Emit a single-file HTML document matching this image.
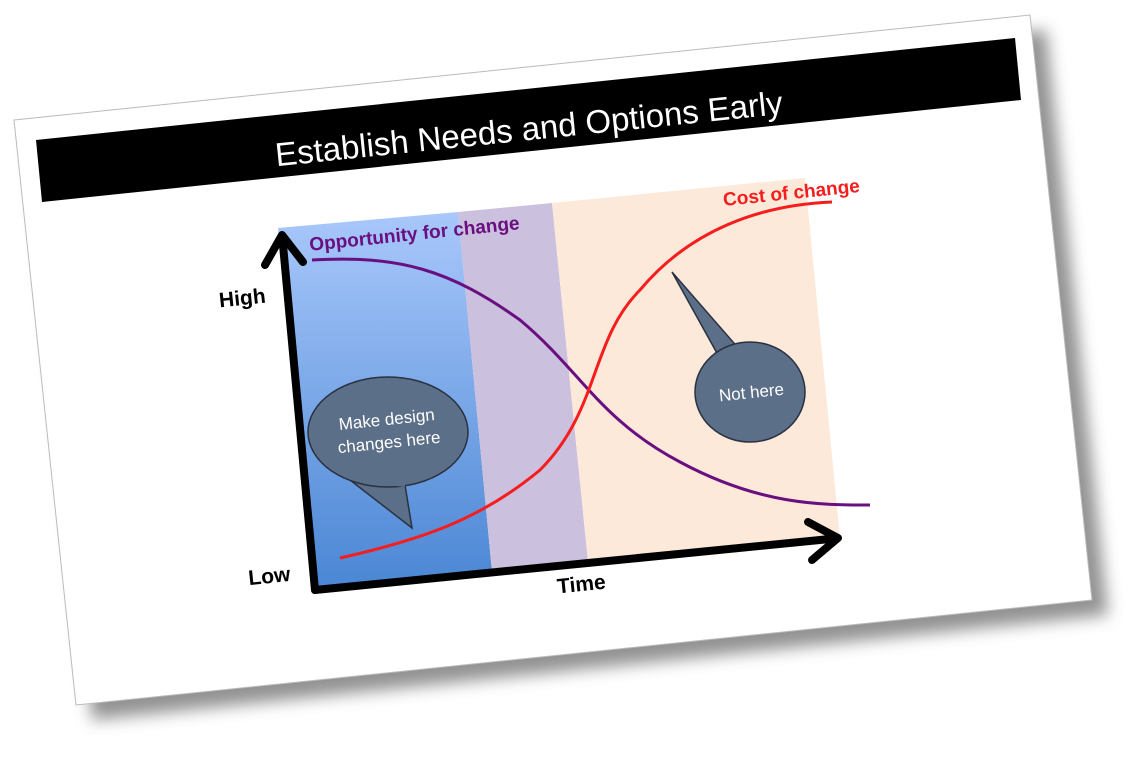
<!DOCTYPE html>
<html><head><meta charset="utf-8"><style>
html,body{margin:0;padding:0;background:#fff;}
svg{display:block;font-family:"Liberation Sans",sans-serif;}
</style></head><body>
<svg width="1135" height="757" viewBox="0 0 1135 757" xmlns="http://www.w3.org/2000/svg">
<defs>
<filter id="sh" x="-10%" y="-10%" width="130%" height="130%"><feGaussianBlur stdDeviation="8"/></filter>
<linearGradient id="bl" x1="0" y1="0" x2="0" y2="1"><stop offset="0" stop-color="#a9c8fb"/><stop offset="1" stop-color="#4a86d4"/></linearGradient>
</defs>
<polygon points="30,135 1046,30 1108,615 92,720" fill="#777" filter="url(#sh)" opacity="0.8"/>
<polygon points="14,120 1030,15 1092,600 76,705" fill="#fff" stroke="#bbb" stroke-width="1"/>
<polygon points="36,140 1015,38 1021,100 42,202" fill="#000"/>
<text x="0" y="0" transform="translate(530,140) rotate(-5.9)" text-anchor="middle" fill="#fff" font-size="33">Establish Needs and Options Early</text>
<polygon points="278,228 458,212 492,572 315,590" fill="url(#bl)"/>
<polygon points="458,212 552,203 588,562 492,572" fill="#cbc0dd"/>
<polygon points="552,203 805,178 840,538 588,562" fill="#fde9d9"/>
<path d="M312,260 C400,255 450,270 520,320 C580,370 600,420 680,462 C760,505 820,505 870,505" fill="none" stroke="#6a0f80" stroke-width="3"/>
<path d="M340,558 C420,540 480,520 540,470 C600,410 590,340 640,290 C690,230 760,205 832,202" fill="none" stroke="#f51d1d" stroke-width="3"/>
<g stroke="#000" stroke-width="8" fill="none" stroke-linecap="round" stroke-linejoin="round">
<path d="M315,590 L283,245"/><path d="M265,265 L282,235 L303,262"/>
<path d="M315,590 L830,539"/><path d="M808,522 L838,538 L812,560"/>
</g>
<path d="M350,480 L412,528 L405,485 Z" fill="#5c6f88" stroke="#2a3140" stroke-width="1.5"/>
<ellipse cx="388" cy="432" rx="80" ry="55" fill="#5c6f88" stroke="#2a3140" stroke-width="1.5"/>
<path d="M380,482 L405,485" stroke="#5c6f88" stroke-width="4"/>
<path d="M718,355 L672,272 L740,350 Z" fill="#5c6f88" stroke="#2a3140" stroke-width="1.5"/>
<ellipse cx="750" cy="392" rx="55" ry="50" fill="#5c6f88" stroke="#2a3140" stroke-width="1.5"/>
<g transform="rotate(-5.9 388 432)" fill="#fff" font-size="17" text-anchor="middle">
<text x="388" y="425">Make design</text><text x="388" y="448">changes here</text></g>
<text transform="translate(752,398) rotate(-5.9)" fill="#fff" font-size="17" text-anchor="middle">Not here</text>
<text transform="translate(243,305) rotate(-5.9)" font-size="21" font-weight="bold" text-anchor="middle">High</text>
<text transform="translate(270,583) rotate(-5.9)" font-size="21" font-weight="bold" text-anchor="middle">Low</text>
<text transform="translate(582,591) rotate(-5.9)" font-size="21" font-weight="bold" text-anchor="middle">Time</text>
<text transform="translate(415,240) rotate(-5.9)" font-size="19" font-weight="bold" fill="#6a0f80" text-anchor="middle">Opportunity for change</text>
<text transform="translate(792,199) rotate(-5.9)" font-size="19" font-weight="bold" fill="#f51d1d" text-anchor="middle">Cost of change</text>
</svg>
</body></html>
